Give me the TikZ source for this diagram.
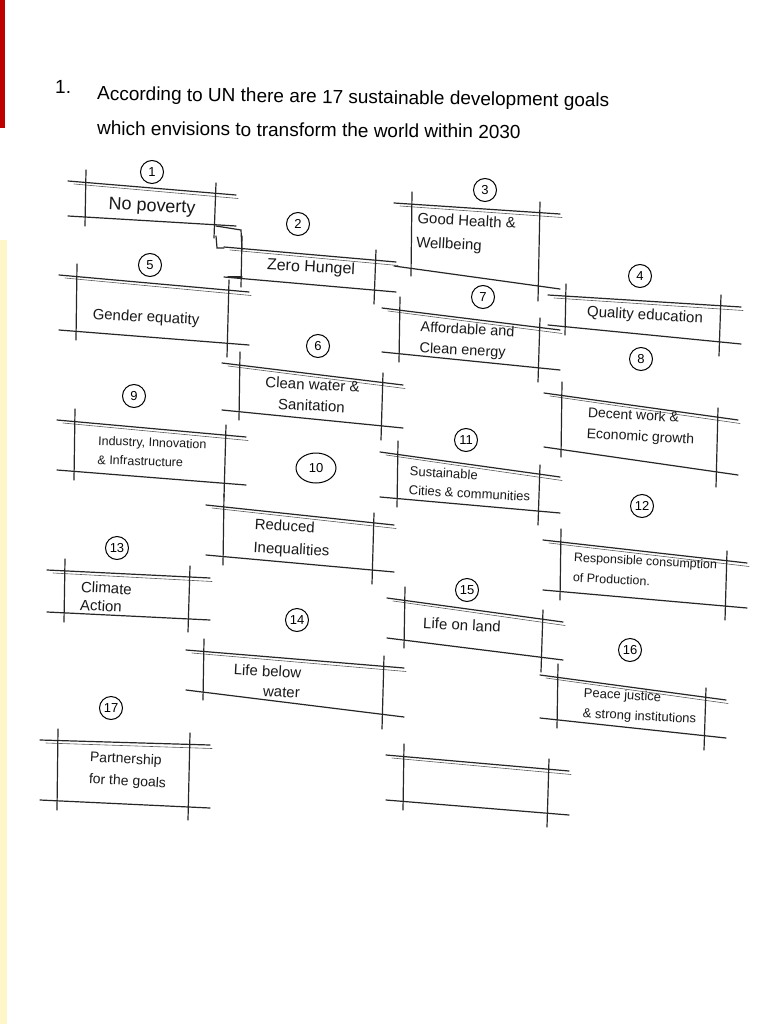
\documentclass[tikz,border=0pt]{standalone}
\usepackage{fontspec}
\setmainfont{Liberation Sans}
\usetikzlibrary{shapes.geometric}
\newcommand\gbox[6]{%
 \draw[hand] (#1-18,#3) -- (#2+20,#4);
 \draw[thinl] (#1-12,#3+3) -- (#2+22,#4+3.5);
 \draw[hand] (#1-18,#5) -- (#2+20,#6);
 \draw[hand] (#1,#3-11) -- (#1-1,#5+10);
 \draw[hand] (#2,#4-12) -- (#2-2,#6+12);
}
\begin{document}
\begin{tikzpicture}[x=1pt,y=-1pt,
 hand/.style={line width=1.2pt, black!85, line cap=round},
 thinl/.style={line width=0.6pt, black!65, line cap=round},
 lab/.style={align=left, rotate=-3, inner sep=1pt, text=black!90},
 numbase/.style={draw, line width=1pt, inner sep=1pt, font=\fontsize{13}{13}\selectfont},
 num/.style={numbase, circle, minimum size=23pt},
 numwide/.style={numbase, ellipse, minimum width=40pt, minimum height=30pt},
 head/.style={anchor=west, inner sep=0pt, font=\fontsize{19}{19}\selectfont}]
\useasboundingbox (0,0) rectangle (768,1024);
\fill[white] (0,0) rectangle (768,1024);
% paper edge
\fill[red!75!black] (0,0) rectangle (5,128);
\fill[yellow!70!orange, opacity=0.22] (0,240) rectangle (7,1024);

% heading
\node[head] (hn) at (55,87) {1.};
\node[head, rotate=-0.8] (h1) at (97,95) {According to UN there are 17 sustainable development goals};
\node[head, rotate=-0.5] (h2) at (97,128) {which envisions to transform the world within 2030};

% boxes
\gbox{86}{216}{181}{195}{216}{226}
\gbox{242}{376}{247}{262}{277}{292}
\gbox{412}{540}{203}{214}{266}{289}
\gbox{566}{721}{295}{307}{325}{344}
\gbox{77}{229}{275}{292}{330}{345}
\gbox{240}{383}{363}{385}{410}{428}
\gbox{400}{540}{308}{330}{352}{370}
\gbox{562}{718}{393}{420}{447}{475}
\gbox{75}{226}{420}{437}{470}{485}
\gbox{224}{374}{505}{525}{555}{572}
\gbox{398}{540}{452}{477}{497}{513}
\gbox{561}{727}{540}{563}{590}{608}
\gbox{65}{190}{570}{578}{612}{620}
\gbox{204}{384}{650}{668}{690}{717}
\gbox{405}{543}{598}{622}{638}{660}
\gbox{558}{706}{675}{700}{718}{738}
\gbox{58}{190}{740}{745}{800}{808}
\gbox{404}{549}{755}{771}{800}{815}
% step between boxes 1, 2 and 5
\draw[hand] (216,226) -- (241,230) -- (242,250);
\draw[hand] (216,236) -- (217,248) -- (224,248);
\draw[hand] (228,277) -- (242,277);

% numbers
\node[num] (n1) at (152,172) {1};
\node[num] (n2) at (298,224) {2};
\node[num] (n3) at (485,190) {3};
\node[num] (n4) at (640,276) {4};
\node[num] (n5) at (150,265) {5};
\node[num] (n6) at (318,346) {6};
\node[num] (n7) at (483,297) {7};
\node[num] (n8) at (641,359) {8};
\node[num] (n9) at (134,396) {9};
\node[numwide] (n10) at (316,468) {10};
\node[num] (n11) at (466,440) {11};
\node[num] (n12) at (642,506) {12};
\node[num] (n13) at (117,548) {13};
\node[num] (n14) at (297,620) {14};
\node[num] (n15) at (467,590) {15};
\node[num] (n16) at (630,650) {16};
\node[num] (n17) at (111,708) {17};

% labels
\node[lab, font=\fontsize{18}{20}\selectfont] (t1) at (152,207) {No poverty};
\node[lab, font=\fontsize{16}{18}\selectfont] (t2) at (311,268) {Zero Hungel};
\node[lab, font=\fontsize{15}{24}\selectfont] (t3) at (466,234) {Good Health \&\\Wellbeing};
\node[lab, font=\fontsize{15}{17}\selectfont] (t4) at (645,316) {Quality education};
\node[lab, font=\fontsize{15}{17}\selectfont] (t5) at (146,318) {Gender equatity};
\node[lab, align=center, font=\fontsize{15}{21}\selectfont] (t6) at (312,395) {Clean water \&\\Sanitation};
\node[lab, font=\fontsize{14.5}{21}\selectfont] (t7) at (467,341) {Affordable and\\Clean energy};
\node[lab, font=\fontsize{14}{21}\selectfont] (t8) at (641,427) {Decent work \&\\Economic growth};
\node[lab, rotate=1, font=\fontsize{12.5}{19}\selectfont] (t9) at (152,452) {Industry, Innovation\\\& Infrastructure};
\node[lab, font=\fontsize{15}{23}\selectfont] (t10) at (292,539) {Reduced\\Inequalities};
\node[lab, font=\fontsize{13}{19}\selectfont] (t11) at (470,484) {Sustainable\\Cities \& communities};
\node[lab, font=\fontsize{12.5}{20}\selectfont] (t12) at (645,571) {Responsible consumption\\of Production.};
\node[lab, font=\fontsize{15}{18}\selectfont] (t13) at (106,597) {Climate\\Action};
\node[lab, align=center, font=\fontsize{15}{20}\selectfont] (t14) at (267,681) {Life below\\\hspace{2em}water};
\node[lab, font=\fontsize{15}{17}\selectfont] (t15) at (462,625) {Life on land};
\node[lab, font=\fontsize{13}{20}\selectfont] (t16) at (640,707) {Peace justice\\\& strong institutions};
\node[lab, font=\fontsize{14}{22}\selectfont] (t17) at (128,771) {Partnership\\for the goals};
\end{tikzpicture}
\end{document}
